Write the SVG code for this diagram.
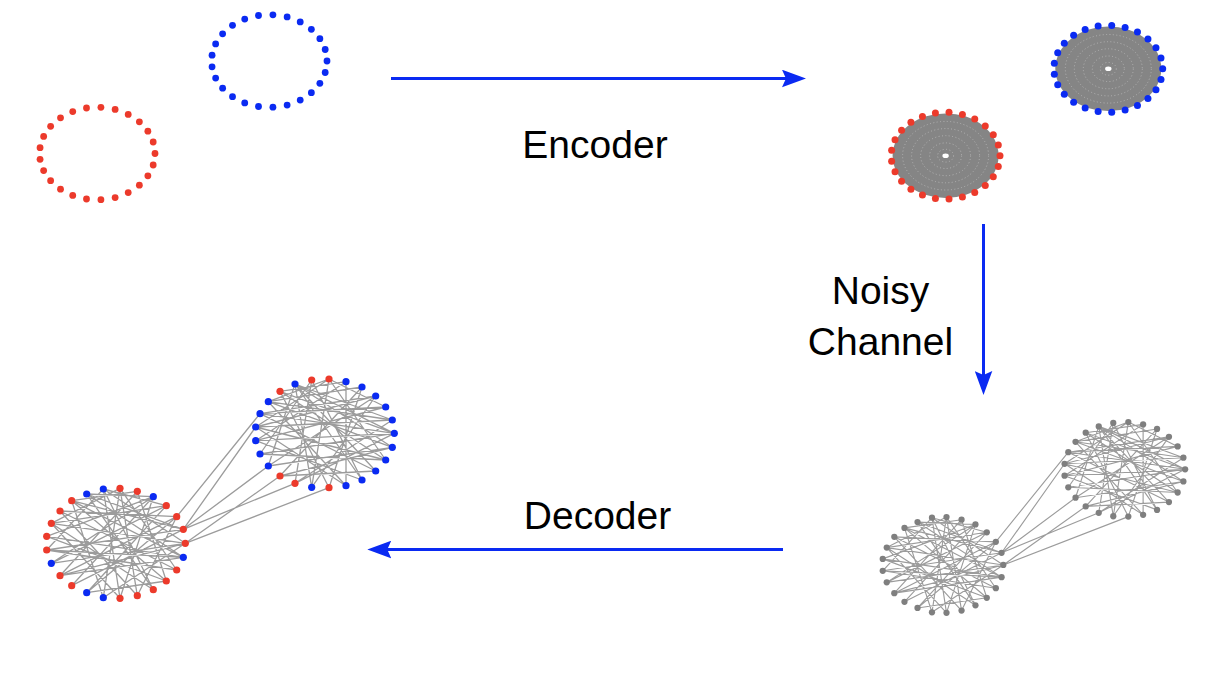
<svg xmlns="http://www.w3.org/2000/svg" width="1216" height="690" viewBox="0 0 1216 690">
<style>
.lbl{font-family:"Liberation Sans",Arial,sans-serif;font-size:39px;fill:#000;text-anchor:middle}
.arrow{fill:none;stroke:#0a2af2;stroke-width:3}
.dense{fill:none;stroke:#b4b4b4;stroke-width:1;stroke-dasharray:1 2.4}
</style>
<defs>
<marker id="head" markerUnits="userSpaceOnUse" markerWidth="24" markerHeight="18" refX="5" refY="8.8" orient="auto" viewBox="0 0 24 17.6">
<path d="M0,0 L24,8.8 L0,17.6 L4,8.8 Z" fill="#0a2af2"/>
</marker>
<g id="ringA">
<circle cx="57.7" cy="0" r="3.4"/><circle cx="55.89" cy="-11.51" r="3.4"/><circle cx="50.56" cy="-22.31" r="3.4"/><circle cx="42.06" cy="-31.69" r="3.4"/><circle cx="30.92" cy="-39.09" r="3.4"/><circle cx="17.83" cy="-44.04" r="3.4"/><circle cx="3.62" cy="-46.21" r="3.4"/><circle cx="-10.81" cy="-45.48" r="3.4"/><circle cx="-24.57" cy="-41.89" r="3.4"/><circle cx="-36.78" cy="-35.67" r="3.4"/><circle cx="-46.68" cy="-27.22" r="3.4"/><circle cx="-53.65" cy="-17.04" r="3.4"/><circle cx="-57.24" cy="-5.8" r="3.4"/>
<circle cx="-57.24" cy="5.8" r="3.4"/><circle cx="-53.65" cy="17.04" r="3.4"/><circle cx="-46.68" cy="27.22" r="3.4"/><circle cx="-36.78" cy="35.67" r="3.4"/><circle cx="-24.57" cy="41.89" r="3.4"/><circle cx="-10.81" cy="45.48" r="3.4"/><circle cx="3.62" cy="46.21" r="3.4"/><circle cx="17.83" cy="44.04" r="3.4"/><circle cx="30.92" cy="39.09" r="3.4"/><circle cx="42.06" cy="31.69" r="3.4"/><circle cx="50.56" cy="22.31" r="3.4"/><circle cx="55.89" cy="11.51" r="3.4"/>
</g>
<g id="ringC">
<circle cx="54.4" cy="0" r="3.5"/><circle cx="52.69" cy="-10.8" r="3.5"/><circle cx="47.67" cy="-20.93" r="3.5"/><circle cx="39.66" cy="-29.74" r="3.5"/><circle cx="29.15" cy="-36.68" r="3.5"/><circle cx="16.81" cy="-41.32" r="3.5"/><circle cx="3.42" cy="-43.36" r="3.5"/><circle cx="-10.19" cy="-42.68" r="3.5"/><circle cx="-23.16" cy="-39.31" r="3.5"/><circle cx="-34.67" cy="-33.48" r="3.5"/><circle cx="-44.01" cy="-25.54" r="3.5"/><circle cx="-50.58" cy="-15.99" r="3.5"/><circle cx="-53.97" cy="-5.44" r="3.5"/>
<circle cx="-53.97" cy="5.44" r="3.5"/><circle cx="-50.58" cy="15.99" r="3.5"/><circle cx="-44.01" cy="25.54" r="3.5"/><circle cx="-34.67" cy="33.48" r="3.5"/><circle cx="-23.16" cy="39.31" r="3.5"/><circle cx="-10.19" cy="42.68" r="3.5"/><circle cx="3.42" cy="43.36" r="3.5"/><circle cx="16.81" cy="41.32" r="3.5"/><circle cx="29.15" cy="36.68" r="3.5"/><circle cx="39.66" cy="29.74" r="3.5"/><circle cx="47.67" cy="20.93" r="3.5"/><circle cx="52.69" cy="10.8" r="3.5"/>
</g>
<g id="denseDisk">
<ellipse cx="0" cy="0" rx="53" ry="42.3" fill="#858585"/>
<ellipse class="dense" cx="0" cy="0" rx="43" ry="34.3"/>
<ellipse class="dense" cx="0" cy="0" rx="34" ry="27.1"/>
<ellipse class="dense" cx="0" cy="0" rx="25" ry="20"/>
<ellipse class="dense" cx="0" cy="0" rx="16" ry="12.8"/>
<ellipse class="dense" cx="0" cy="0" rx="8" ry="6.4"/>
<ellipse cx="0" cy="0" rx="3.2" ry="2.3" fill="#ffffff"/>
</g>
<g id="edges" fill="none" stroke="#9c9c9c" stroke-width="1.3">
<path d="M295 384L394.3 433.3M295 384L392.3 447.3M295 384L362 480M295 384L311.7 487.3M295 384L268.3 466M295 384L392.3 420M280 391.3L394.3 433.3M280 391.3L385.7 460M280 391.3L329 487.7M311.7 380L295 483.3M311.7 380L260 454M329 379L385.7 407M329 379L311.7 487.3M329 379L255.7 427M346 381.7L346 485.7M346 381.7L255.7 440.7M362 387L280 476M362 387L268.3 401.7M375.7 396L268.3 466M375.7 396L255.7 427M385.7 407L255.7 440.7M385.7 407L260 413.7M392.3 420L255.7 427M392.3 420L268.3 401.7M394.3 433.3L255.7 440.7M394.3 433.3L260 413.7M394.3 433.3L260 454M394.3 433.3L295 483.3M392.3 447.3L268.3 401.7M392.3 447.3L280 476M385.7 460L255.7 427M375.7 471L260 413.7M375.7 471L295 384M362 480L255.7 440.7M346 485.7L268.3 401.7M329 487.7L362 387M311.7 487.3L375.7 396M295 483.3L392.3 420M280 476L375.7 471M268.3 466L392.3 447.3M260 454L385.7 460M255.7 427L346 485.7M311.7 380L362 480M329 379L385.7 460M375.7 396L260 413.7M280 391.3L346 381.7M268.3 401.7L329 379"/>
<path d="M86.7 494L183.3 529.3M86.7 494L183.3 557.3M86.7 494L153.3 589.7M103.3 489L185.3 543.3M103.3 489L120 598.3M103.3 489L46.7 550M120 488.3L176.7 570M120 488.3L103.3 597.7M120 488.3L51.3 523.3M137.3 491.3L166.3 581M137.3 491.3L60 575.7M137.3 491.3L71.7 500.7M153.3 496.7L120 598.3M153.3 496.7L51.3 563.3M153.3 496.7L46.7 536.3M166.3 505.7L86.7 592.7M166.3 505.7L51.3 523.3M176.7 516.7L137.3 595.7M176.7 516.7L60 575.7M176.7 516.7L60 511M183.3 529.3L71.7 585.7M183.3 529.3L46.7 550M183.3 529.3L71.7 500.7M185.3 543.3L51.3 563.3M185.3 543.3L51.3 523.3M185.3 543.3L103.3 597.7M183.3 557.3L46.7 536.3M183.3 557.3L71.7 500.7M183.3 557.3L60 575.7M176.7 570L46.7 550M176.7 570L60 511M166.3 581L46.7 536.3M166.3 581L71.7 500.7M153.3 589.7L51.3 523.3M153.3 589.7L103.3 489M137.3 595.7L60 511M137.3 595.7L120 488.3M120 598.3L51.3 523.3M103.3 597.7L71.7 500.7M86.7 592.7L176.7 516.7M71.7 585.7L153.3 496.7M60 575.7L185.3 543.3M51.3 563.3L166.3 505.7M46.7 550L183.3 557.3M86.7 494L153.3 496.7M103.3 489L166.3 505.7M86.7 592.7L166.3 581"/>
<path d="M176.7 516.7L260 413.7M183.3 529.3L255.7 427M183.3 529.3L268.3 466M185.3 543.3L280 476M183.3 529.3L295 483.3M185.3 543.3L329 487.7"/>
</g>
<g id="redDots">
<circle cx="280" cy="391.3" r="3.6"/><circle cx="311.7" cy="380" r="3.6"/><circle cx="329" cy="379" r="3.6"/><circle cx="329" cy="487.7" r="3.6"/><circle cx="295" cy="483.3" r="3.6"/><circle cx="280" cy="476" r="3.6"/>
<circle cx="120" cy="488.3" r="3.6"/><circle cx="137.3" cy="491.3" r="3.6"/><circle cx="166.3" cy="505.7" r="3.6"/><circle cx="176.7" cy="516.7" r="3.6"/><circle cx="183.3" cy="529.3" r="3.6"/><circle cx="185.3" cy="543.3" r="3.6"/><circle cx="176.7" cy="570" r="3.6"/><circle cx="166.3" cy="581" r="3.6"/><circle cx="153.3" cy="589.7" r="3.6"/><circle cx="137.3" cy="595.7" r="3.6"/><circle cx="120" cy="598.3" r="3.6"/><circle cx="71.7" cy="585.7" r="3.6"/><circle cx="60" cy="575.7" r="3.6"/><circle cx="46.7" cy="550" r="3.6"/><circle cx="46.7" cy="536.3" r="3.6"/><circle cx="51.3" cy="523.3" r="3.6"/><circle cx="60" cy="511" r="3.6"/><circle cx="71.7" cy="500.7" r="3.6"/>
</g>
<g id="blueDots">
<circle cx="295" cy="384" r="3.6"/><circle cx="346" cy="381.7" r="3.6"/><circle cx="362" cy="387" r="3.6"/><circle cx="375.7" cy="396" r="3.6"/><circle cx="385.7" cy="407" r="3.6"/><circle cx="392.3" cy="420" r="3.6"/><circle cx="394.3" cy="433.3" r="3.6"/><circle cx="392.3" cy="447.3" r="3.6"/><circle cx="385.7" cy="460" r="3.6"/><circle cx="375.7" cy="471" r="3.6"/><circle cx="362" cy="480" r="3.6"/><circle cx="346" cy="485.7" r="3.6"/><circle cx="311.7" cy="487.3" r="3.6"/><circle cx="268.3" cy="466" r="3.6"/><circle cx="260" cy="454" r="3.6"/><circle cx="255.7" cy="440.7" r="3.6"/><circle cx="255.7" cy="427" r="3.6"/><circle cx="260" cy="413.7" r="3.6"/><circle cx="268.3" cy="401.7" r="3.6"/>
<circle cx="86.7" cy="494" r="3.6"/><circle cx="103.3" cy="489" r="3.6"/><circle cx="153.3" cy="496.7" r="3.6"/><circle cx="183.3" cy="557.3" r="3.6"/><circle cx="103.3" cy="597.7" r="3.6"/><circle cx="86.7" cy="592.7" r="3.6"/><circle cx="51.3" cy="563.3" r="3.6"/>
</g>
</defs>
<rect width="1216" height="690" fill="#ffffff"/>

<g id="source">
<use href="#ringA" x="97.3" y="153.5" fill="#ec3a2b"/>
<use href="#ringA" x="269.3" y="61" fill="#0a2af2"/>
</g>

<g id="encoded">
<use href="#denseDisk" x="945.6" y="155.7"/>
<use href="#ringC" x="945.6" y="155.7" fill="#ec3a2b"/>
<use href="#denseDisk" x="1108.3" y="68.8"/>
<use href="#ringC" x="1108.3" y="68.8" fill="#0a2af2"/>
</g>

<g id="received">
<g transform="matrix(0.87 0 0 0.87 842.1 92.3)">
<use href="#edges" stroke="#a6a6a6"/>
<use href="#redDots" fill="#7f7f7f"/>
<use href="#blueDots" fill="#7f7f7f"/>
</g>
</g>

<g id="decoded">
<use href="#edges"/>
<use href="#redDots" fill="#ec3a2b"/>
<use href="#blueDots" fill="#0a2af2"/>
</g>

<g id="connectors">
<path class="arrow" d="M391 78.5L787 78.5" marker-end="url(#head)"/>
<path class="arrow" d="M983.5 224L983.5 376" marker-end="url(#head)"/>
<path class="arrow" d="M783 549.5L386.3 549.5" marker-end="url(#head)"/>
</g>

<g id="labels">
<text class="lbl" x="595" y="158">Encoder</text>
<text class="lbl" x="880.5" y="304">Noisy</text>
<text class="lbl" x="880.5" y="355">Channel</text>
<text class="lbl" x="597.5" y="529">Decoder</text>
</g>
</svg>
